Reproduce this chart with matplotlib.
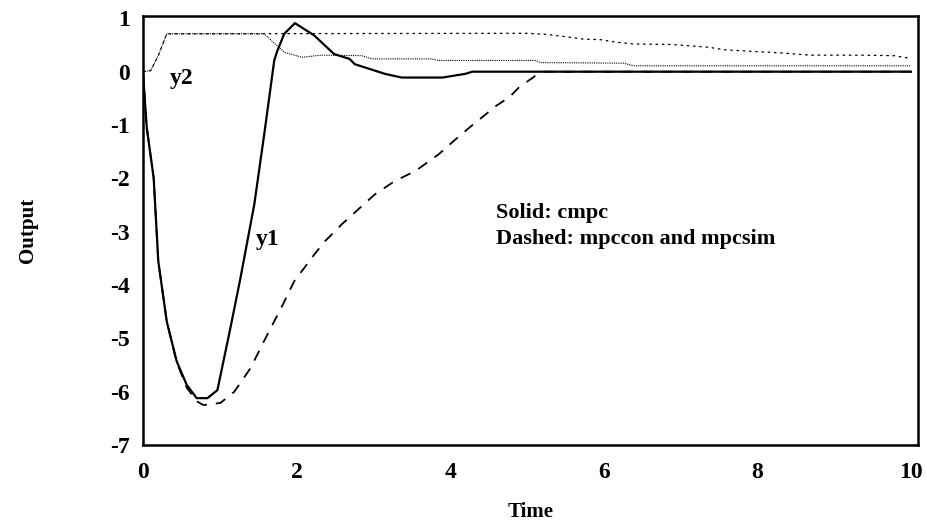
import matplotlib
matplotlib.use("Agg")
import matplotlib.pyplot as plt

plt.rcParams['font.family'] = ['Liberation Serif', 'DejaVu Serif']
plt.rcParams['font.weight'] = 'bold'

# y1, cmpc (solid)
t_y1_cmpc = [0.0, 0.05, 0.14, 0.2, 0.31, 0.44, 0.57, 0.70, 0.84, 0.97, 1.14, 1.27, 1.45,
             1.58, 1.71, 1.75, 1.84, 1.98, 2.23, 2.49, 2.69, 2.76, 3.15, 3.37, 3.90, 4.2,
             4.29, 10.0]
y1_cmpc = [0.0, -1.05, -1.99, -3.55, -4.68, -5.43, -5.87, -6.12, -6.12, -5.97, -4.8, -3.87,
           -2.49, -1.17, 0.21, 0.39, 0.71, 0.91, 0.68, 0.33, 0.24, 0.14, -0.04, -0.11,
           -0.11, -0.04, 0.0, 0.0]

# y1, mpccon (dashed)
t_y1_mpc = [0.0, 0.05, 0.14, 0.2, 0.31, 0.44, 0.57, 0.70, 0.79, 1.01, 1.19, 1.40, 1.62,
            1.80, 1.97, 2.23, 2.37, 2.59, 3.02, 3.28, 3.55, 3.85, 4.07, 4.25, 4.6, 4.77,
            4.90, 5.08, 5.17, 10.0]
y1_mpc = [0.0, -1.05, -1.99, -3.55, -4.68, -5.45, -5.92, -6.18, -6.25, -6.21, -6.0, -5.56,
          -4.93, -4.43, -3.93, -3.43, -3.18, -2.86, -2.3, -2.05, -1.86, -1.55, -1.27,
          -1.05, -0.64, -0.48, -0.29, -0.11, 0.0, 0.0]

# y2, cmpc
t_y2_cmpc = [0.0, 0.1, 0.2, 0.31, 1.58, 1.72, 1.85, 2.07, 2.32, 2.85, 2.98, 3.76, 3.85,
             5.12, 5.17, 6.26, 6.39, 10.0]
y2_cmpc = [0.0, 0.02, 0.3, 0.71, 0.71, 0.52, 0.36, 0.27, 0.31, 0.30, 0.24, 0.24, 0.21,
           0.21, 0.17, 0.16, 0.11, 0.11]

# y2, mpccon
t_y2_mpc = [0.0, 0.1, 0.2, 0.31, 5.0, 5.25, 5.48, 5.74, 5.96, 6.18, 6.39, 6.88, 7.36,
            7.58, 8.33, 8.68, 9.34, 9.78, 10.0]
y2_mpc = [0.0, 0.02, 0.3, 0.71, 0.72, 0.70, 0.66, 0.61, 0.60, 0.55, 0.52, 0.51, 0.46,
          0.41, 0.35, 0.31, 0.31, 0.30, 0.25]

xticks = [0, 2, 4, 6, 8, 10]
yticks = [1, 0, -1, -2, -3, -4, -5, -6, -7]

fig = plt.figure(figsize=(9.28, 5.23), dpi=100)
ax = fig.add_axes([0.154, 0.149, 0.835, 0.82])

ax.plot(t_y1_cmpc, y1_cmpc, color='black', lw=1.6, ls='-')
ax.plot(t_y1_mpc, y1_mpc, color='black', lw=1.3, ls=(0, (6, 5)))
ax.plot(t_y2_cmpc, y2_cmpc, color='black', lw=0.8, ls=(0, (1, 1)))
ax.plot(t_y2_mpc, y2_mpc, color='black', lw=0.9, ls=(0, (2, 3)))

ax.set_xlim(0, 10.09)
ax.set_ylim(-7, 1.04)
ax.set_xticks(xticks)
ax.set_yticks(yticks)
ax.set_xticklabels([str(v) for v in xticks])
ax.set_yticklabels([str(v) for v in yticks])
ax.tick_params(length=0, labelsize=17)
ax.tick_params(axis='x', pad=12)
ax.tick_params(axis='y', pad=9.5)
for sp in ax.spines.values():
    sp.set_linewidth(1.8)

ax.set_xlabel('Time', fontsize=15, fontweight='bold', labelpad=14)
ax.set_ylabel('Output', fontsize=15, fontweight='bold', labelpad=52)

ax.text(0.5, -0.12, 'y2', fontsize=17, fontweight='bold', ha='center', va='center')
ax.text(1.63, -3.15, 'y1', fontsize=17, fontweight='bold', ha='center', va='center')
ax.text(4.6, -2.9, 'Solid: cmpc\nDashed: mpccon and mpcsim', fontsize=16,
        fontweight='bold', ha='left', va='center', linespacing=1.4)

fig.savefig('out.png', dpi=100)
